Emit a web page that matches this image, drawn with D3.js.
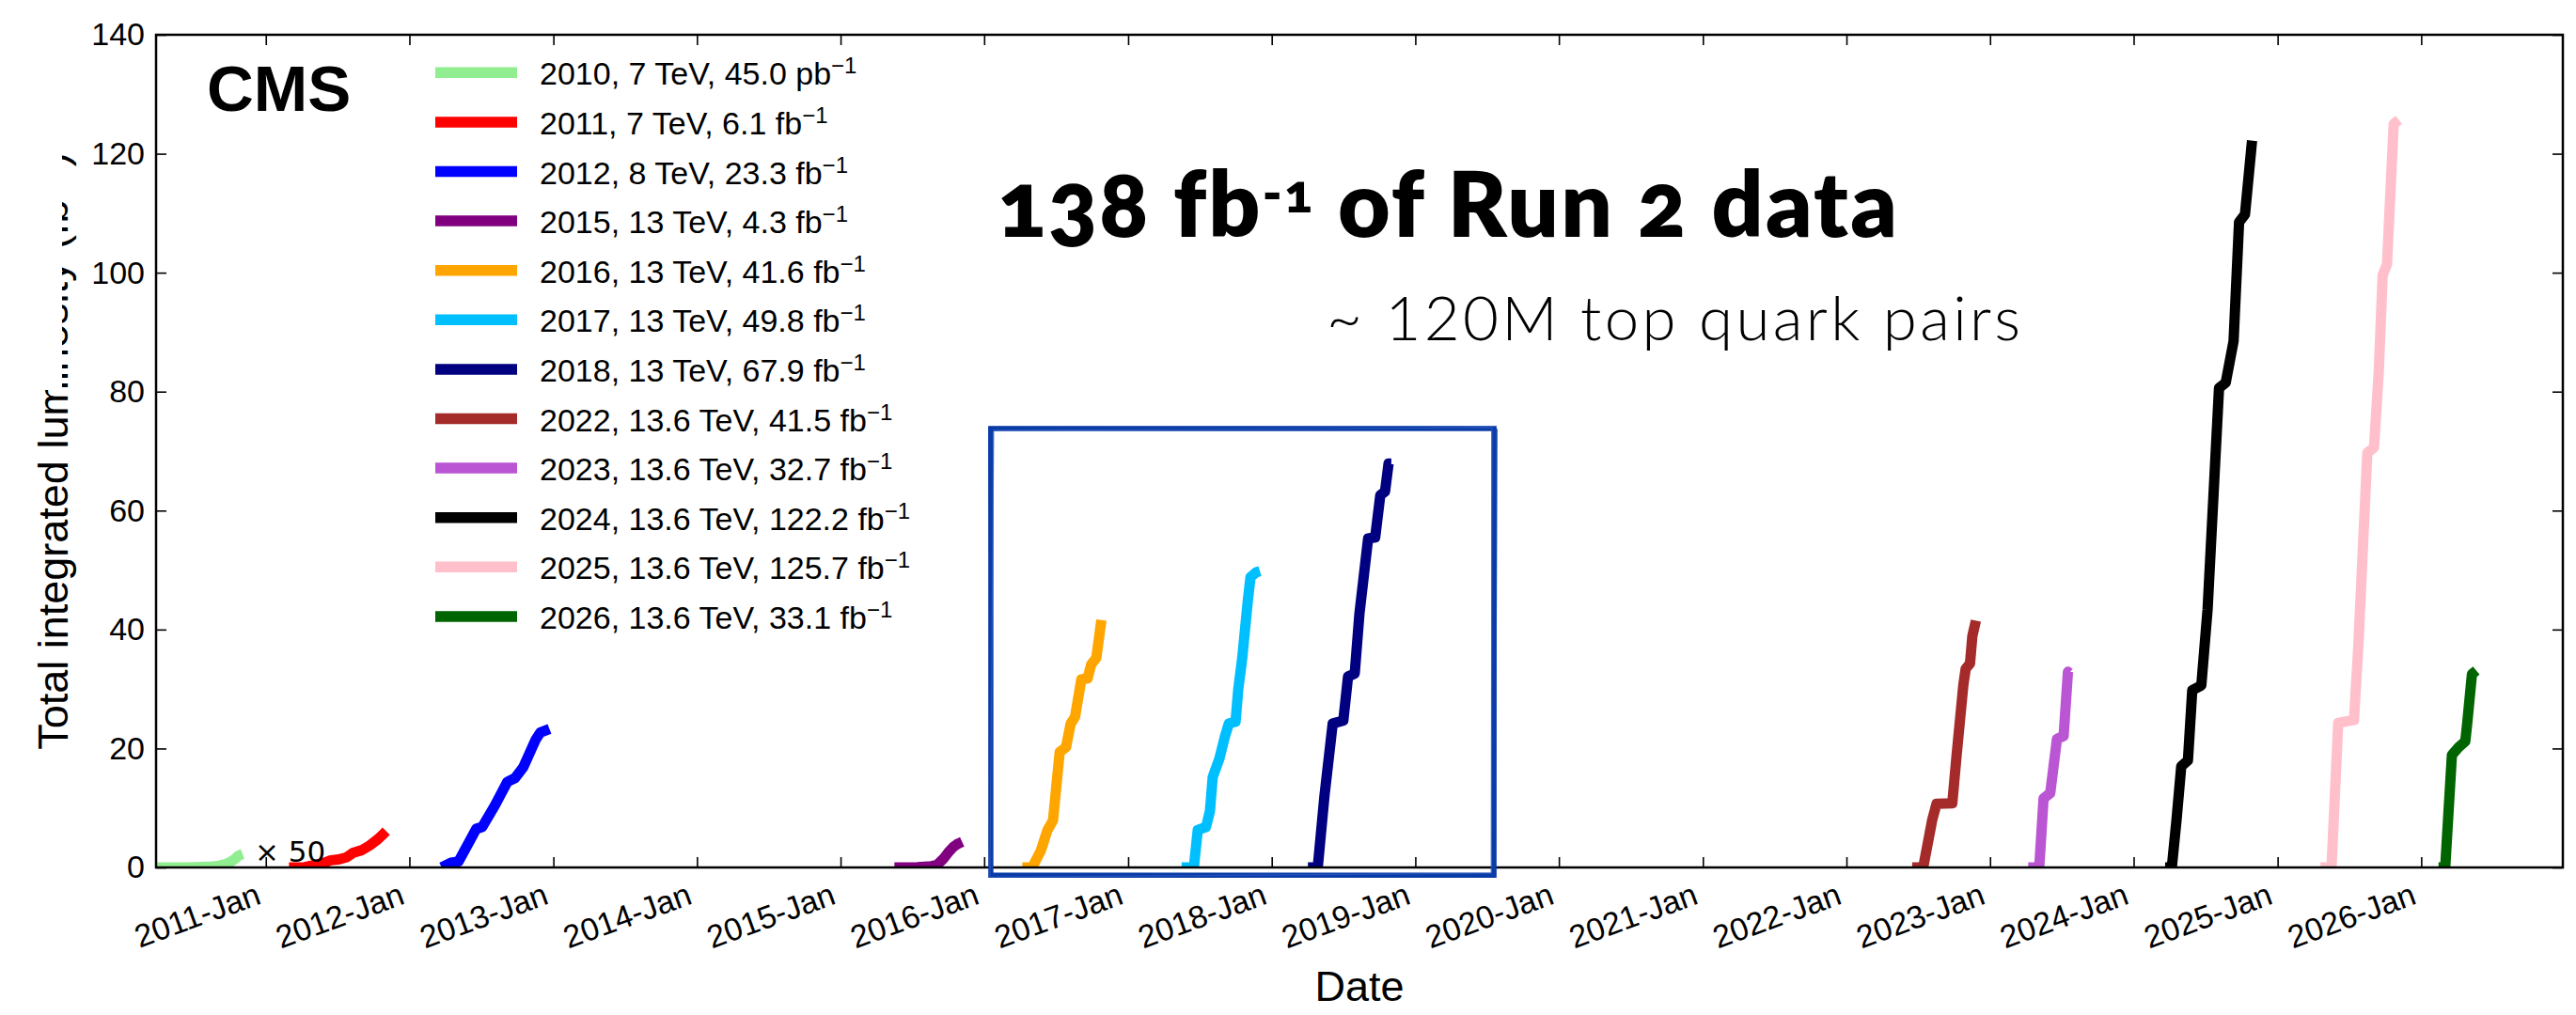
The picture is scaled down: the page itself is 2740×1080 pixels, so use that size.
<!DOCTYPE html>
<html>
<head>
<meta charset="utf-8">
<script src="https://cdn.jsdelivr.net/npm/d3@7"></script>
<style>
  html, body { margin: 0; padding: 0; background: #fff; }
  svg { display: block; }
</style>
</head>
<body>
<svg id="chart" width="2740" height="1080"></svg>
<script>
// ---------------- DATA ----------------
// cumulative delivered luminosity, fb^-1 (2010 shown scaled x50)
const lumi2010 = [["2010-03-30",0],["2010-06-15",0.0003],["2010-08-10",0.002],["2010-09-05",0.006],["2010-09-22",0.012],["2010-10-05",0.02],["2010-10-14",0.028],["2010-10-22",0.038],["2010-10-28",0.042],["2010-11-03",0.045]];
const lumi2011 = [["2011-03-01",0],["2011-04-10",0.05],["2011-05-05",0.4],["2011-05-25",0.7],["2011-06-15",1.2],["2011-07-05",1.35],["2011-07-25",1.7],["2011-08-12",2.5],["2011-09-02",2.9],["2011-09-22",3.7],["2011-10-12",4.7],["2011-10-28",5.7],["2011-11-03",6.1]];
const lumi2012 = [["2012-03-23",0],["2012-04-16",0.8],["2012-05-05",1.0],["2012-06-19",6.5],["2012-07-04",6.8],["2012-08-06",10.5],["2012-09-06",14.4],["2012-09-25",15.0],["2012-10-16",16.8],["2012-11-17",21.5],["2012-11-29",22.7],["2012-12-22",23.3]];
const lumi2015 = [["2015-05-18",0],["2015-07-15",0.05],["2015-08-20",0.2],["2015-09-03",0.4],["2015-09-20",1.5],["2015-10-04",2.7],["2015-10-14",3.4],["2015-10-24",3.9],["2015-11-06",4.3]];
const lumi2016 = [["2016-04-07",0],["2016-05-02",0],["2016-05-24",2.8],["2016-06-10",6.3],["2016-06-24",7.9],["2016-07-11",19.4],["2016-07-27",20.2],["2016-08-08",24.2],["2016-08-19",25.3],["2016-09-04",31.6],["2016-09-20",31.8],["2016-09-29",34.1],["2016-10-12",35.2],["2016-10-25",41.6]];
const lumi2017 = [["2017-05-17",0],["2017-06-17",0],["2017-06-27",6.3],["2017-07-18",6.8],["2017-07-28",9.5],["2017-08-04",15.2],["2017-08-21",18.3],["2017-09-04",22.0],["2017-09-14",24.2],["2017-10-01",24.5],["2017-10-08",30.0],["2017-10-18",35.2],["2017-11-01",44.7],["2017-11-08",48.8],["2017-11-22",49.6],["2017-12-02",49.8]];
const lumi2018 = [["2018-04-03",0],["2018-04-28",0],["2018-05-15",12.0],["2018-06-05",24.2],["2018-07-02",24.7],["2018-07-14",32.1],["2018-07-31",32.6],["2018-08-12",42.7],["2018-09-03",55.3],["2018-09-21",55.5],["2018-10-04",62.6],["2018-10-16",63.2],["2018-10-25",67.9],["2018-11-01",67.9]];
const lumi2022 = [["2022-06-17",0],["2022-07-15",0],["2022-08-07",8.0],["2022-08-18",10.7],["2022-09-27",10.8],["2022-10-08",18.9],["2022-10-25",30.6],["2022-10-31",33.4],["2022-11-11",34.3],["2022-11-17",38.9],["2022-11-26",41.5]];
const lumi2023 = [["2023-04-08",0],["2023-05-06",0],["2023-05-17",11.6],["2023-06-03",12.5],["2023-06-20",21.6],["2023-07-07",22.1],["2023-07-18",32.9],["2023-07-22",32.7]];
const lumi2024 = [["2024-03-21",0],["2024-04-07",0],["2024-04-19",8.0],["2024-05-01",17.0],["2024-05-18",18.0],["2024-05-29",29.8],["2024-06-21",30.6],["2024-07-07",43.4],["2024-08-05",80.6],["2024-08-22",81.5],["2024-09-11",88.5],["2024-09-25",108.5],["2024-10-10",109.8],["2024-10-28",122.2]];
const lumi2025 = [["2025-04-20",0],["2025-05-18",0],["2025-06-04",24.3],["2025-07-14",24.8],["2025-07-25",37.0],["2025-08-17",69.7],["2025-09-03",70.6],["2025-09-15",83.3],["2025-09-25",99.6],["2025-10-06",101.4],["2025-10-23",125.0],["2025-11-05",125.7]];
const lumi2026 = [["2026-02-14",0],["2026-03-03",0],["2026-03-20",18.9],["2026-04-06",20.2],["2026-04-23",21.2],["2026-04-28",24.3],["2026-05-10",32.5],["2026-05-21",33.1]];

const seriesData   = [lumi2010, lumi2011, lumi2012, lumi2015, lumi2016, lumi2017, lumi2018, lumi2022, lumi2023, lumi2024, lumi2025, lumi2026];
const seriesScale  = [50, 1, 1, 1, 1, 1, 1, 1, 1, 1, 1, 1];
const seriesYears  = ["2010","2011","2012","2015","2016","2017","2018","2022","2023","2024","2025","2026"];
const seriesEnergy = ["7 TeV","7 TeV","8 TeV","13 TeV","13 TeV","13 TeV","13 TeV","13.6 TeV","13.6 TeV","13.6 TeV","13.6 TeV","13.6 TeV"];
const seriesTotal  = ["45.0","6.1","23.3","4.3","41.6","49.8","67.9","41.5","32.7","122.2","125.7","33.1"];
const seriesUnit   = ["pb","fb","fb","fb","fb","fb","fb","fb","fb","fb","fb","fb"];
const seriesColors = ["lightgreen","red","blue","purple","orange","deepskyblue","navy","brown","mediumorchid","black","pink","darkgreen"];

const xDomain = ["2010-03-28", "2026-12-27"];
const xTickYears = [2011,2012,2013,2014,2015,2016,2017,2018,2019,2020,2021,2022,2023,2024,2025,2026];
const yDomain = [0, 140];
const yTickValues = [0,20,40,60,80,100,120,140];

const scaleNoteText = "\u00d7 50";
const scaleNoteAt = ["2010-12-04", 0.95];
const run2BoxDates = ["2016-01-18", "2019-07-20"];
const run2BoxValues = [73.8, -1.3];

// ---------------- LAYOUT ----------------
const W = 2740, H = 1080;
const M = { left: 166, right: 2726, top: 37, bottom: 923 };
const parse = d3.utcParse("%Y-%m-%d");
const SANS = "'Liberation Sans', Arial, Helvetica, sans-serif";

const svg = d3.select("#chart");
svg.append("rect").attr("width", W).attr("height", H).attr("fill", "#fff");

const x = d3.scaleUtc().domain(xDomain.map(parse)).range([M.left, M.right]);
const y = d3.scaleLinear().domain(yDomain).range([M.bottom, M.top]);

svg.append("defs").append("clipPath").attr("id", "plotclip")
  .append("rect").attr("x", M.left).attr("y", M.top)
  .attr("width", M.right - M.left).attr("height", M.bottom - M.top);

// series
const gLines = svg.append("g").attr("clip-path", "url(#plotclip)");
seriesData.forEach((data, i) => {
  const s = seriesScale[i];
  const line = d3.line().x(d => x(parse(d[0]))).y(d => y(d[1] * s));
  gLines.append("path")
    .attr("d", line(data))
    .attr("fill", "none")
    .attr("stroke", seriesColors[i])
    .attr("stroke-width", 11)
    .attr("stroke-linejoin", "round")
    .attr("stroke-linecap", "butt");
});

// axes
const xTicks = xTickYears.map(yr => new Date(Date.UTC(yr, 0, 1)));
function styleAxis(g) {
  g.select(".domain").remove();
  g.selectAll(".tick line").attr("stroke", "#000").attr("stroke-width", 1.6);
  g.attr("font-family", SANS).attr("font-size", 34);
  g.selectAll(".tick text").attr("fill", "#000");
}
const gxB = svg.append("g").attr("transform", `translate(0,${M.bottom})`)
  .call(d3.axisBottom(x).tickValues(xTicks).tickSize(-11).tickSizeOuter(0).tickFormat(d3.utcFormat("%Y-%b")));
styleAxis(gxB);
gxB.selectAll(".tick text")
  .attr("x", 0).attr("y", 0).attr("dy", null)
  .attr("text-anchor", "end")
  .attr("transform", "translate(-4,38) rotate(-20)");

const gxT = svg.append("g").attr("transform", `translate(0,${M.top})`)
  .call(d3.axisTop(x).tickValues(xTicks).tickSize(-11).tickSizeOuter(0).tickFormat(""));
styleAxis(gxT);

const gyL = svg.append("g").attr("transform", `translate(${M.left},0)`)
  .call(d3.axisLeft(y).tickValues(yTickValues).tickSize(-11).tickSizeOuter(0).tickPadding(12));
styleAxis(gyL);

const gyR = svg.append("g").attr("transform", `translate(${M.right},0)`)
  .call(d3.axisRight(y).tickValues(yTickValues).tickSize(-11).tickSizeOuter(0).tickFormat(""));
styleAxis(gyR);

svg.append("rect")
  .attr("x", M.left).attr("y", M.top)
  .attr("width", M.right - M.left).attr("height", M.bottom - M.top)
  .attr("fill", "none").attr("stroke", "#000").attr("stroke-width", 2.5);

// axis titles
const yLab = svg.append("text")
  .attr("transform", `translate(72,${(M.top + M.bottom) / 2}) rotate(-90)`)
  .attr("text-anchor", "middle")
  .attr("font-family", SANS).attr("font-size", 45).attr("fill", "#000");
yLab.append("tspan").text("Total integrated luminosity (fb");
yLab.append("tspan").attr("font-size", 31).attr("dy", -17).text("\u22121");
yLab.append("tspan").attr("dy", 17).text(")");
// white patch over part of the y title (as in the reference image)
svg.append("rect").attr("x", 0).attr("y", 140).attr("width", 66).attr("height", 275).attr("fill", "#fff");

svg.append("text")
  .attr("x", (M.left + M.right) / 2).attr("y", 1065)
  .attr("text-anchor", "middle")
  .attr("font-family", SANS).attr("font-size", 45).attr("fill", "#000")
  .text("Date");

// legend
const legY0 = 77.3, legDy = 52.6;
seriesYears.forEach((yr, i) => {
  const ly = legY0 + i * legDy;
  svg.append("line")
    .attr("x1", 463).attr("x2", 550).attr("y1", ly).attr("y2", ly)
    .attr("stroke", seriesColors[i]).attr("stroke-width", 11.5);
  const t = svg.append("text")
    .attr("x", 574).attr("y", ly + 13)
    .attr("font-family", SANS).attr("font-size", 34).attr("fill", "#000");
  t.append("tspan").text(`${yr}, ${seriesEnergy[i]}, ${seriesTotal[i]} ${seriesUnit[i]}`);
  t.append("tspan").attr("font-size", 24).attr("dy", -12).text("\u22121");
});

// CMS label
svg.append("text")
  .attr("x", 220).attr("y", 118)
  .attr("font-family", SANS).attr("font-weight", "bold").attr("font-size", 69).attr("fill", "#000")
  .text("CMS");

// x50 note
svg.append("text")
  .attr("x", x(parse(scaleNoteAt[0]))).attr("y", y(scaleNoteAt[1]))
  .attr("font-family", "'DejaVu Sans', sans-serif").attr("font-size", 31).attr("fill", "#000")
  .text(scaleNoteText);

// headline
const title = svg.append("text")
  .attr("x", 1061).attr("y", 252)
  .attr("font-family", "Lato, 'Open Sans', sans-serif").attr("font-weight", 800).attr("font-size", 96)
  .attr("fill", "#000")
  .style("font-variant-numeric", "oldstyle-nums");
title.append("tspan").text("138 fb");
title.append("tspan").attr("font-size", 56).attr("dy", -26).text("-1");
title.append("tspan").attr("dy", 26).text(" of Run 2 data");

const sub = svg.append("text")
  .attr("x", 1411).attr("y", 362)
  .attr("font-family", "Lato, 'Open Sans', sans-serif").attr("font-weight", 300).attr("font-size", 57)
  .attr("fill", "#000")
  .text("~ 120M top quark pairs");

// fit a text to a target width: grow the size part of the way, spacing for the rest
function fitWidth(sel, target, baseSize, sizeShare) {
  let w = sel.node().getBBox().width;
  const f = target / w;
  const size = baseSize * (1 + (f - 1) * sizeShare);
  sel.attr("font-size", size);
  w = sel.node().getBBox().width;
  const n = sel.text().length;
  if (n > 1) sel.attr("letter-spacing", (target - w) / (n - 1));
}
fitWidth(title, 958, 96, 0);
fitWidth(sub, 738, 57, 0.55);

// hand-drawn Run 2 box
const bx0 = x(parse(run2BoxDates[0])), bx1 = x(parse(run2BoxDates[1]));
const by0 = y(run2BoxValues[0]), by1 = y(run2BoxValues[1]);
const boxColor = "#0b3ca8";
svg.append("rect")
  .attr("x", bx0).attr("y", by0).attr("width", bx1 - bx0).attr("height", by1 - by0)
  .attr("fill", "none").attr("stroke", boxColor).attr("stroke-width", 5.5);
svg.append("path")
  .attr("d", `M${bx0 - 2},${by0 - 1} L${bx1 + 3},${by0 + 1} L${bx1 + 1},${by1 + 2} L${bx0 + 1},${by1 - 1} Z`)
  .attr("fill", "none").attr("stroke", boxColor).attr("stroke-width", 1.6).attr("opacity", 0.85);
svg.append("path")
  .attr("d", `M${bx0 + 3},${by0 + 2} L${bx1 - 2},${by0 - 1} L${bx1 - 3},${by1 - 2} L${bx0 - 1},${by1 + 2} Z`)
  .attr("fill", "none").attr("stroke", "#2f5cc0").attr("stroke-width", 1.2).attr("opacity", 0.7);
</script>
</body>
</html>
